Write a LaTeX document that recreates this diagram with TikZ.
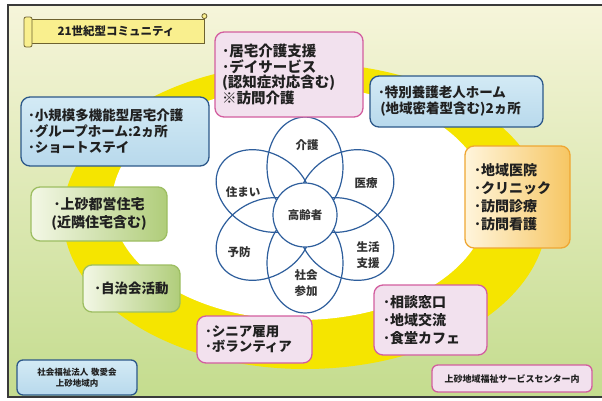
\documentclass[tikz,border=0pt]{standalone}
\usepackage{fontspec}
\newfontfamily\jp{Noto Sans CJK JP}
\usetikzlibrary{shapes.geometric,calc}
\definecolor{bgtop}{HTML}{F6F5DA}
\definecolor{bgmid}{HTML}{E0EAB8}
\definecolor{bgbot}{HTML}{C4DC8E}
\definecolor{ringyellow}{HTML}{F5E500}
\definecolor{framegray}{HTML}{3A3A3A}
\definecolor{pinkfill}{HTML}{F2E1EE}
\definecolor{pinkline}{HTML}{D35E9F}
\definecolor{bluetop}{HTML}{D3EAF5}
\definecolor{bluebot}{HTML}{B8D9EC}
\definecolor{blueline}{HTML}{2C5889}
\definecolor{orangel}{HTML}{FFF5DC}
\definecolor{oranger}{HTML}{F6C663}
\definecolor{orangeline}{HTML}{EFA733}
\definecolor{greenl}{HTML}{F3F7E6}
\definecolor{greenr}{HTML}{B0CD7A}
\definecolor{greenline}{HTML}{9DBE62}
\definecolor{ink}{HTML}{202020}
\definecolor{softink}{HTML}{333333}
\definecolor{petalblue}{HTML}{2E5E9C}
\definecolor{scrollfill}{HTML}{F9EF8E}
\definecolor{scrollline}{HTML}{6E6230}

\begin{document}
\begin{tikzpicture}[x=1pt,y=-1pt]
%define
\tikzstyle{box} = [rectangle, rounded corners=9pt, line width=1.3pt, inner ysep=0pt, text=ink, font=\jp\bfseries\fontsize{13.5}{16}\selectfont]
\tikzstyle{box_p} = [box, draw=pinkline, fill=pinkfill, align=left]
\tikzstyle{box_b} = [box, draw=blueline, top color=bluetop, bottom color=bluebot, align=left]
\tikzstyle{box_o} = [box, draw=orangeline, left color=orangel, right color=oranger, align=left]
\tikzstyle{box_g} = [box, draw=greenline, left color=greenl, right color=greenr, align=center]
\tikzstyle{petal} = [ellipse, draw=petalblue, line width=1.2pt, minimum width=100pt, minimum height=76pt, inner sep=0pt]
\tikzstyle{word} = [text=softink, font=\jp\bfseries\fontsize{11.5}{16}\selectfont, align=center]

%ground
\useasboundingbox (0,0) rectangle (602,400);
\fill[white] (0,0) rectangle (602,400);
\shade[top color=bgtop, middle color=bgmid, bottom color=bgbot] (8,5) rectangle (602,397);
\draw[framegray, line width=1.8pt] (602,5) -- (8,5) -- (8,397) -- (602,397);

%ring
\fill[ringyellow] (305,216) ellipse [x radius=242, y radius=153];
\fill[white] (300,203) ellipse [x radius=188, y radius=117];

%title
\node[rectangle, draw=scrollline, fill=scrollfill, line width=0.8pt, minimum width=176pt, minimum height=24pt, text=ink, font=\jp\bfseries\fontsize{11.5}{13}\selectfont](title) at (116,31){21世紀型コミュニティ};
\draw[scrollline, fill=scrollfill, line width=0.8pt, rounded corners=2pt] (24,17) rectangle (32,47);
\draw[scrollline, fill=scrollfill, line width=0.8pt] ($(title.north east)+(0,-2.5)$) circle (2.5);

%flower
\coordinate (flower) at (305,215);
\foreach \a in {30,90,...,330}
  \node[petal, rotate=\a](petal\a) at ($(flower)+(-\a:48)$){};
\node[circle, draw=petalblue, line width=1.2pt, fill=white, minimum size=64pt, inner sep=0pt, word](elder) at (flower){高齢者};
\node[word](w_kaigo) at (307,145){介護};
\node[word](w_iryo) at (366,183){医療};
\node[word](w_seikatsu) at (368,255){生活\\支援};
\node[word](w_shakai) at (306,283){社会\\参加};
\node[word](w_yobo) at (239,252){予防};
\node[word](w_sumai) at (243,192){住まい};

%boxes
\node[box_p, text width=134pt, inner xsep=7pt, minimum height=85pt, font=\jp\bfseries\fontsize{14.5}{15.5}\selectfont](state_Kyotaku) at (289,74.5){･居宅介護支援\\･デイサービス\\(認知症対応含む)\\※訪問介護};
\node[box_b, text width=157pt, inner xsep=8pt, minimum height=51pt](state_Tokuyo) at (456.5,101.5){･特別養護老人ホーム\\\,(地域密着型含む)2ヵ所};
\node[box_b, text width=174pt, inner xsep=7pt, minimum height=69pt](state_Shokibo) at (115,131.5){･小規模多機能型居宅介護\\･グループホーム:2ヵ所\\･ショートステイ};
\node[box_o, text width=87pt, inner xsep=9pt, minimum height=102pt, font=\jp\bfseries\fontsize{14}{18}\selectfont](state_Iryo) at (517.5,197){･地域医院\\･クリニック\\･訪問診療\\･訪問看護};
\node[box_g, text width=122pt, inner xsep=7pt, minimum height=54pt, font=\jp\bfseries\fontsize{14}{18}\selectfont](state_Jutaku) at (99,214){･上砂都営住宅\\(近隣住宅含む)};
\node[box_g, text width=83pt, inner xsep=7pt, minimum height=47pt](state_Jichi) at (131.5,288.5){･自治会活動};
\node[box_p, text width=99pt, inner xsep=8pt, minimum height=47pt, font=\jp\bfseries\fontsize{13.5}{15}\selectfont](state_Senior) at (254.5,339.5){･シニア雇用\\･ボランティア};
\node[box_p, text width=95pt, inner xsep=9pt, minimum height=70pt, font=\jp\bfseries\fontsize{14}{18}\selectfont](state_Sodan) at (430.5,320){･相談窓口\\･地域交流\\･食堂カフェ};

%footer
\node[box_b, rounded corners=6pt, text width=110pt, inner xsep=5pt, minimum height=35pt, align=center, font=\jp\bfseries\fontsize{8.5}{11}\selectfont](state_Hojin) at (77,377.5){社会福祉法人 敬愛会\\上砂地域内};
\node[box_p, rounded corners=6pt, text width=150pt, inner xsep=5pt, minimum height=27pt, align=center, font=\jp\bfseries\fontsize{9}{11}\selectfont](state_Center) at (512,378.5){上砂地域福祉サービスセンター内};
\end{tikzpicture}
\end{document}
